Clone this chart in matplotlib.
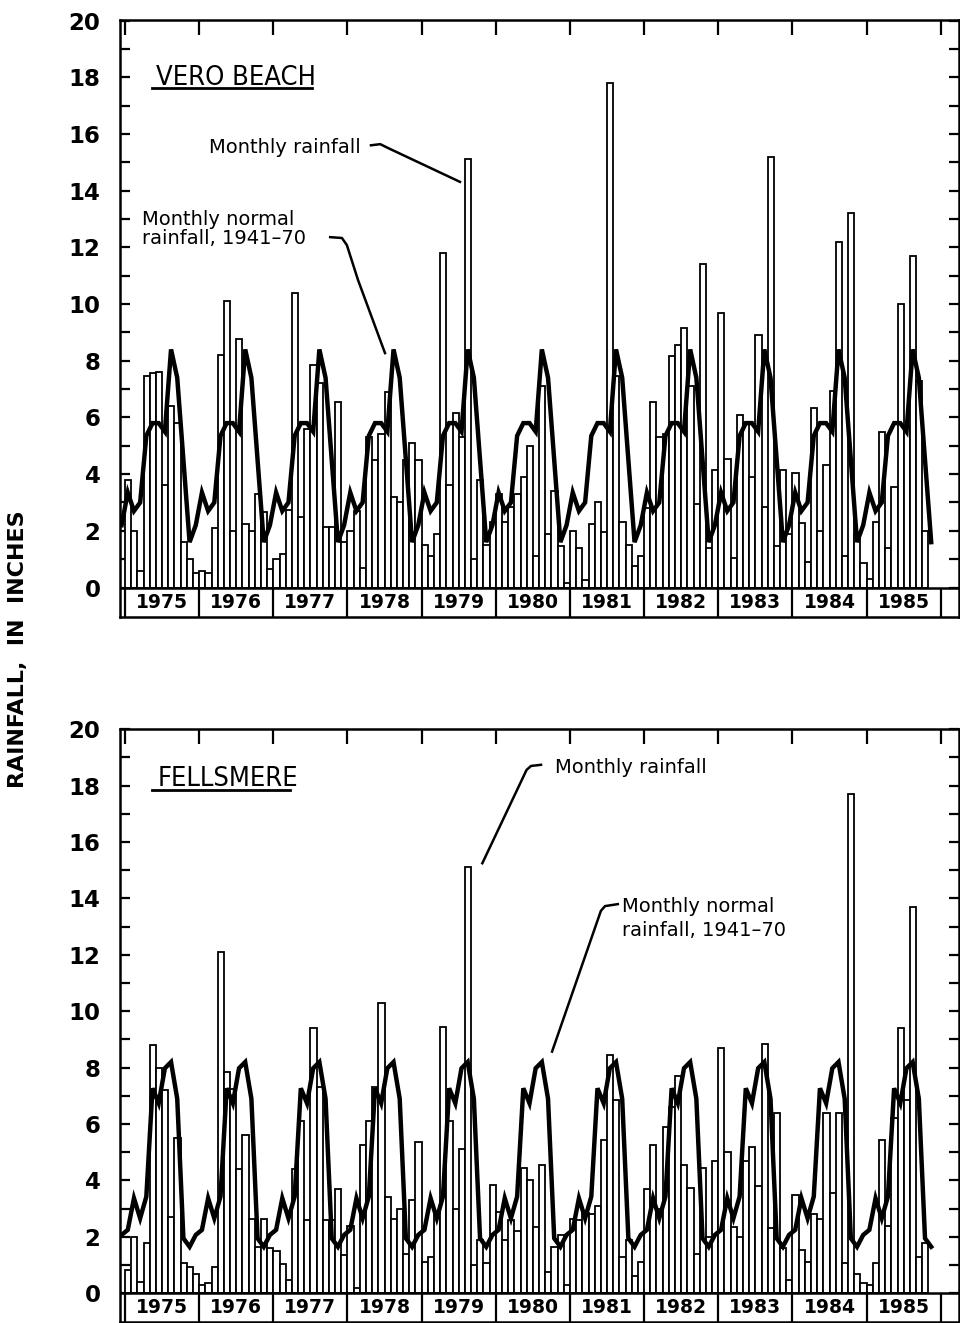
import numpy as np
import matplotlib
matplotlib.use("Agg")
import matplotlib.pyplot as plt
from matplotlib.ticker import FixedLocator

# years shown on the strip under each panel
years = list(range(1975, 1986))

# monthly rainfall, inches, Jan 1975 - Oct 1985 (one row per year)
vero_rain = [
    3.8, 2.0, 0.6, 7.45, 7.55, 7.6, 3.6, 6.4, 5.8, 1.6, 1.0, 0.5,
    0.6, 0.5, 2.1, 8.2, 10.1, 2.0, 8.75, 2.25, 2.0, 3.3, 2.65, 0.65,
    1.0, 1.2, 2.75, 10.4, 2.5, 5.6, 7.85, 7.2, 2.15, 2.15, 6.55, 1.6,
    2.0, 2.7, 0.7, 5.3, 4.5, 5.4, 6.9, 3.2, 3.0, 4.5, 5.1, 4.5,
    1.5, 1.1, 1.9, 11.8, 3.6, 6.15, 5.3, 15.1, 1.0, 3.8, 1.5, 2.3,
    3.3, 2.3, 2.85, 3.3, 3.9, 5.0, 1.1, 7.1, 1.9, 3.4, 1.45, 0.15,
    2.0, 1.4, 0.25, 2.25, 3.0, 1.95, 17.8, 7.45, 2.3, 1.5, 0.75, 1.1,
    2.8, 6.55, 5.3, 5.4, 8.15, 8.55, 9.15, 7.1, 2.95, 11.4, 1.4, 4.15,
    9.7, 4.55, 1.05, 6.1, 5.8, 3.9, 8.9, 2.85, 15.2, 1.45, 4.15, 1.9,
    4.05, 2.27, 0.9, 6.35, 2.0, 4.33, 6.92, 12.2, 1.1, 13.2, 1.9, 0.85,
    0.3, 2.3, 5.5, 1.4, 3.55, 10.0, 5.7, 11.7, 7.3, 2.0,
]

fells_rain = [
    0.83, 2.0, 0.4, 1.8, 8.8, 8.0, 7.2, 2.7, 5.5, 1.06, 0.95, 0.7,
    0.3, 0.35, 0.95, 12.1, 7.85, 7.25, 4.4, 5.6, 2.65, 1.65, 2.65, 1.6,
    1.5, 1.05, 0.47, 4.4, 6.1, 2.6, 9.4, 7.3, 2.6, 2.6, 3.7, 1.35,
    2.4, 0.2, 5.25, 6.1, 7.3, 10.3, 3.4, 2.65, 3.0, 1.4, 3.3, 5.35,
    1.1, 1.3, 2.9, 9.45, 6.1, 3.0, 5.1, 15.1, 1.0, 1.9, 1.06, 3.85,
    2.9, 1.9, 2.6, 2.2, 4.45, 4.0, 2.35, 4.55, 0.77, 1.65, 2.07, 0.3,
    2.65, 2.6, 2.85, 2.8, 3.1, 5.45, 8.45, 6.85, 1.3, 1.9, 0.6, 1.1,
    3.7, 5.25, 3.0, 5.9, 6.6, 7.7, 4.55, 3.75, 1.4, 4.45, 2.0, 4.7,
    8.7, 5.0, 2.35, 2.0, 4.7, 5.2, 3.8, 8.85, 2.3, 6.4, 1.6, 0.47,
    3.5, 1.55, 1.1, 2.8, 2.65, 6.4, 3.55, 6.4, 1.06, 17.7, 0.7, 0.35,
    0.3, 1.06, 5.45, 2.4, 6.2, 9.4, 6.85, 13.7, 1.3, 1.8,
]

# monthly normal rainfall 1941-70, Jan..Dec
vero_normal = [2.2, 3.35, 2.7, 3.0, 5.35, 5.8, 5.8, 5.5, 8.4, 7.4, 4.5, 1.6]
fells_normal = [2.07, 2.25, 3.37, 2.66, 3.43, 7.27, 6.74, 7.98, 8.2, 6.9, 1.95, 1.65]


def draw_panel(ax, rain, normal, title, title_pos, underline):
    n_months = len(years) * 12
    x = np.arange(len(rain))
    ax.bar(x, rain, width=1.0, align="edge", color="white",
           edgecolor="black", linewidth=1.3, zorder=2)
    norm_series = np.tile(normal, len(years))
    ax.plot(np.arange(n_months) - 0.55, norm_series, color="black", lw=3.2,
            solid_joinstyle="miter", zorder=3)

    # zero line and the year strip below it
    ax.axhline(0, color="black", lw=1.8, zorder=4)
    ax.vlines(np.arange(0, n_months + 1, 12), -1.1, 0, color="black", lw=1.6, zorder=4)
    for k, yr in enumerate(years):
        ax.text(12 * k + 6, -0.52, str(yr), ha="center", va="center",
                fontsize=13.5, fontweight="bold", zorder=5)

    ax.set_xlim(-0.81, 134.95)
    ax.set_xticks(np.arange(0, n_months + 1, 12))
    ax.tick_params(axis="x", bottom=False, top=True, labelbottom=False,
                   labeltop=False, direction="in", length=11, width=1.6)
    ax.set_yticks(range(0, 21, 2))
    ax.yaxis.set_minor_locator(FixedLocator(range(1, 20, 2)))
    ax.tick_params(axis="y", which="both", left=True, right=True,
                   direction="in", length=7, width=1.6)
    ax.tick_params(axis="y", which="major", labelsize=16.5, pad=14)
    for lab in ax.get_yticklabels():
        lab.set_fontweight("bold")
    for sp in ax.spines.values():
        sp.set_linewidth(1.8)

    ax.text(title_pos[0], title_pos[1], title, family="DejaVu Sans",
            fontstretch="condensed", fontsize=19.5, va="baseline", ha="left")
    ax.plot(underline[0], underline[1], color="black", lw=2.0)


fig = plt.figure(figsize=(9.6, 13.23), dpi=100)
W, H = 960, 1323
ax_top = fig.add_axes([120 / W, 1 - 617 / H, (959 - 120) / W, (617 - 20) / H])
ax_bot = fig.add_axes([120 / W, 1 - 1321.5 / H, (959 - 120) / W, (1321.5 - 729) / H])

draw_panel(ax_top, vero_rain, vero_normal, "VERO BEACH", (5.0, 17.72),
           ([4.4, 30.3], [17.61, 17.61]))
ax_top.set_ylim(-1.04, 20.02)

draw_panel(ax_bot, fells_rain, fells_normal, "FELLSMERE", (5.2, 17.98),
           ([4.3, 26.7], [17.84, 17.84]))
ax_bot.set_ylim(-1.0, 20.01)

# annotations, top panel
ax_top.text(13.6, 15.32, "Monthly rainfall", fontsize=14, va="baseline", ha="left")
ax_top.plot([39.8, 41.3, 42.6, 54.2], [15.6, 15.64, 15.5, 14.31], color="black", lw=1.8)
ax_top.text(2.75, 12.79, "Monthly normal", fontsize=14, va="baseline", ha="left")
ax_top.text(2.75, 12.12, "rainfall, 1941\u201370", fontsize=14, va="baseline", ha="left")
ax_top.plot([33.2, 35.1, 35.9, 37.7, 42.07], [12.36, 12.33, 12.08, 10.85, 8.27],
            color="black", lw=1.8)

# annotations, bottom panel
ax_bot.text(69.5, 18.44, "Monthly rainfall", fontsize=14, va="baseline", ha="left")
ax_bot.plot([67.31, 65.7, 64.98, 57.82], [18.74, 18.7, 18.56, 15.25], color="black", lw=1.8)
ax_bot.text(80.4, 13.51, "Monthly normal", fontsize=14, va="baseline", ha="left")
ax_bot.text(80.4, 12.67, "rainfall, 1941\u201370", fontsize=14, va="baseline", ha="left")
ax_bot.plot([79.74, 77.67, 77.0, 69.1], [13.8, 13.73, 13.56, 8.57], color="black", lw=1.8)

fig.text(0.019, 0.509, "RAINFALL,  IN  INCHES", rotation=90, ha="center", va="center",
         fontsize=16, fontweight="bold")

fig.savefig("out.png", dpi=100)
